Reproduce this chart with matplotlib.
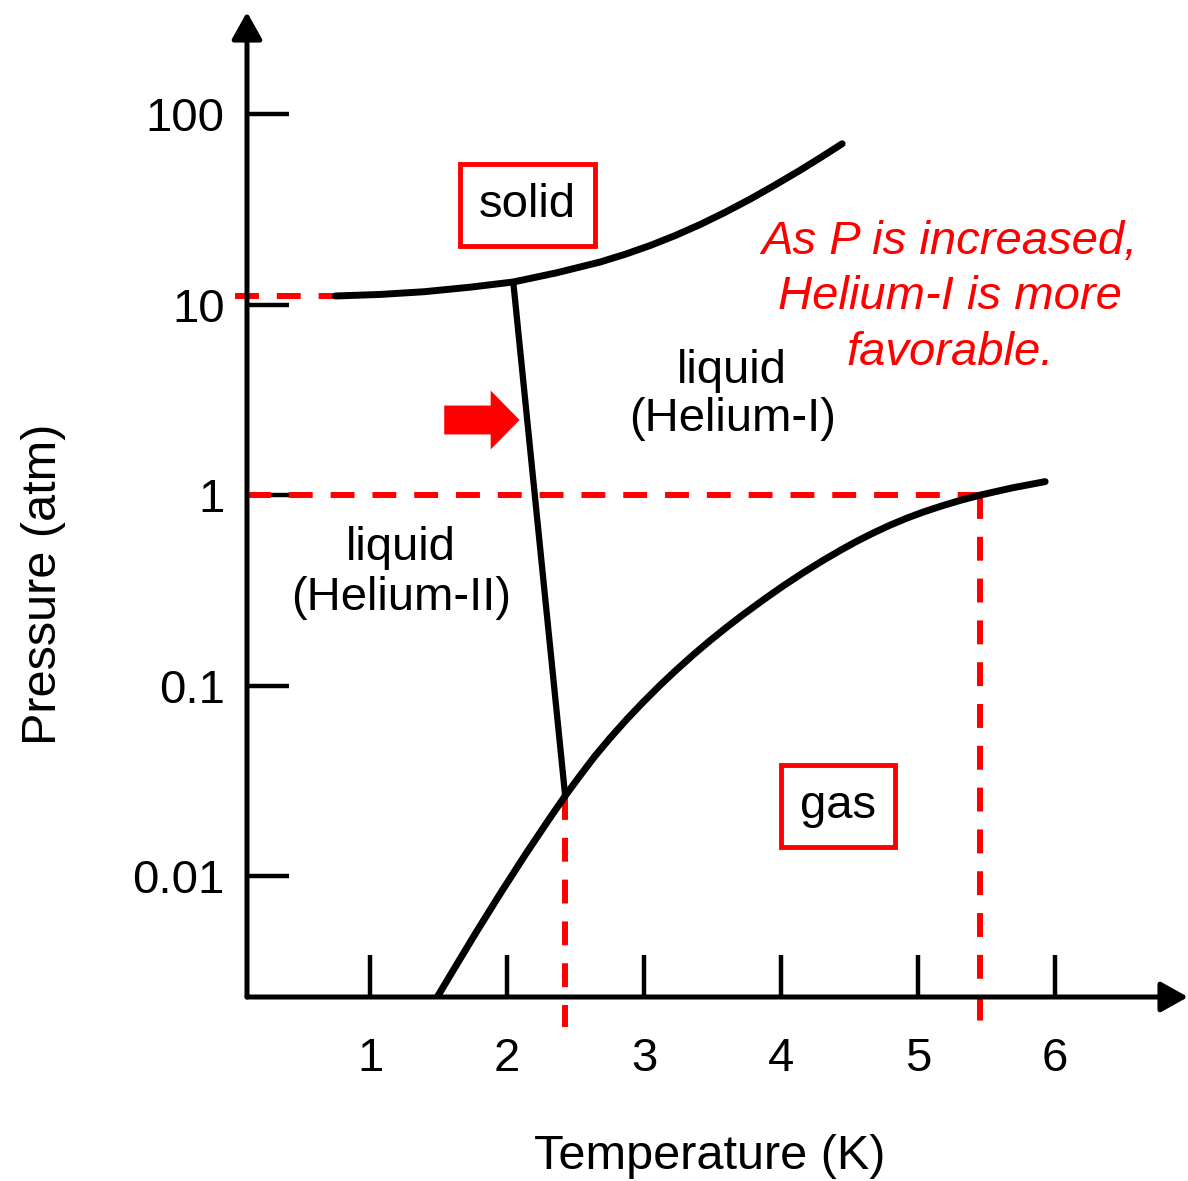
import numpy as np
import matplotlib.pyplot as plt

plt.rcParams['font.family'] = ['Liberation Sans', 'DejaVu Sans']

# solid / liquid boundary
melt_T = [0.745, 1.073, 1.394, 1.730, 2.044, 2.358, 2.679, 2.861, 3.044,
          3.226, 3.409, 3.591, 3.774, 3.956, 4.139, 4.292, 4.445]
melt_P = [11.11, 11.32, 11.70, 12.36, 13.16, 14.69, 16.76, 18.40, 20.46,
          23.07, 26.38, 30.57, 35.86, 42.54, 50.86, 59.53, 70.00]

# liquid / gas boundary
vap_T = [1.489, 1.599, 1.774, 1.949, 2.131, 2.307, 2.423, 2.526, 2.642,
         2.752, 2.876, 2.993, 3.117, 3.234, 3.358, 3.482, 3.606, 3.723,
         3.869, 4.015, 4.161, 4.307, 4.431, 4.547, 4.672, 4.796, 4.920,
         5.036, 5.175, 5.307, 5.453, 5.686, 5.927]
vap_P = [0.002312, 0.003135, 0.005068, 0.008072, 0.01290, 0.01993, 0.02632,
         0.03322, 0.04273, 0.05311, 0.06684, 0.08191, 0.1005, 0.1206,
         0.1449, 0.1725, 0.2034, 0.2360, 0.2815, 0.3336, 0.3913, 0.4545,
         0.5124, 0.5698, 0.6324, 0.6958, 0.7581, 0.8141, 0.8786, 0.9380,
         1.0, 1.091, 1.177]

# lambda line (Helium-I / Helium-II)
lam_T = [2.044, 2.423]
lam_P = [13.16, 0.02632]

T_ticks = [1, 2, 3, 4, 5, 6]
P_ticks = [0.01, 0.1, 1, 10, 100]
P_labels = ["0.01", "0.1", "1", "10", "100"]

note_lines = ["As P is increased,", "Helium-I is more", "favorable."]
note_P = [18.46, 9.49, 4.82]

T_boil = 5.453   # where the gas curve crosses 1 atm
P_floor = 0.0016

fig = plt.figure(figsize=(11.88, 11.81), dpi=100)
ax = fig.add_axes([0.2079, 0.1558, 0.7921, 0.834])
ax.set_yscale('log')
ax.set_xlim(0.10, 6.97)
ax.set_ylim(10 ** -2.636, 10 ** 2.537)
for s in ax.spines.values():
    s.set_visible(False)

ax.set_xticks(T_ticks)
ax.set_xticklabels([str(t) for t in T_ticks])
ax.set_yticks(P_ticks)
ax.set_yticklabels(P_labels)
ax.minorticks_off()
ax.tick_params(direction='in', length=30, width=3.2, labelsize=34, color='k')
ax.tick_params(axis='x', pad=29)
ax.tick_params(axis='y', pad=16)

# axes drawn as arrows
axis_arrow = dict(arrowstyle='-|>,head_length=0.75,head_width=0.42', color='k',
                  lw=3.6, shrinkA=0, shrinkB=0, mutation_scale=22)
ax.annotate('', xy=(1, 0), xytext=(0, 0), xycoords='axes fraction',
            arrowprops=axis_arrow, annotation_clip=False, zorder=5)
ax.annotate('', xy=(0, 1), xytext=(0, 0), xycoords='axes fraction',
            arrowprops=axis_arrow, annotation_clip=False, zorder=5)

# red dashed guides
dash = dict(color='red', lw=4.3, linestyle=(0, (4, 3)), clip_on=False, zorder=3)
ax.plot([0.01, melt_T[0]], [melt_P[0], melt_P[0]], **dash)
ax.plot([0.10, T_boil], [1, 1], **dash)
ax.plot([lam_T[-1], lam_T[-1]], [lam_P[-1], P_floor], **dash)
ax.plot([T_boil, T_boil], [1, P_floor], **dash)

# phase boundaries
curve = dict(color='k', solid_capstyle='round', solid_joinstyle='round', zorder=4)
ax.plot(melt_T, melt_P, lw=5, **curve)
ax.plot(vap_T, vap_P, lw=5, **curve)
ax.plot(lam_T, lam_P, lw=4.5, **curve)

# region labels
box = dict(boxstyle='square,pad=0.4', fc='white', ec='red', lw=3.5)
ax.text(2.146, 33.5, "solid", fontsize=34, ha='center', va='center', bbox=box)
ax.text(4.416, 0.0233, "gas", fontsize=34, ha='center', va='center', bbox=box)
ax.text(3.642, 3.36, "liquid\n(Helium-I)", fontsize=34, ha='center',
        va='center', linespacing=1.13)
ax.text(1.226, 0.39, "liquid\n(Helium-II)", fontsize=34, ha='center',
        va='center', linespacing=1.18)
for line, p in zip(note_lines, note_P):
    ax.text(5.23, p, line, fontsize=34, color='red', style='italic',
            ha='center', va='baseline')

ax.annotate('', xy=(2.09, 2.48), xytext=(1.54, 2.48),
            arrowprops=dict(arrowstyle='simple,head_length=1.04,head_width=2.12,tail_width=1.04',
                            mutation_scale=20, fc='red', ec='none',
                            shrinkA=0, shrinkB=0))

fig.text(0.5977, 0.0205, "Temperature (K)", fontsize=35, ha='center', va='center')
fig.text(0.0362, 0.5055, "Pressure (atm)", fontsize=35, ha='center', va='center',
         rotation=90)

fig.savefig("out.png", dpi=100)
